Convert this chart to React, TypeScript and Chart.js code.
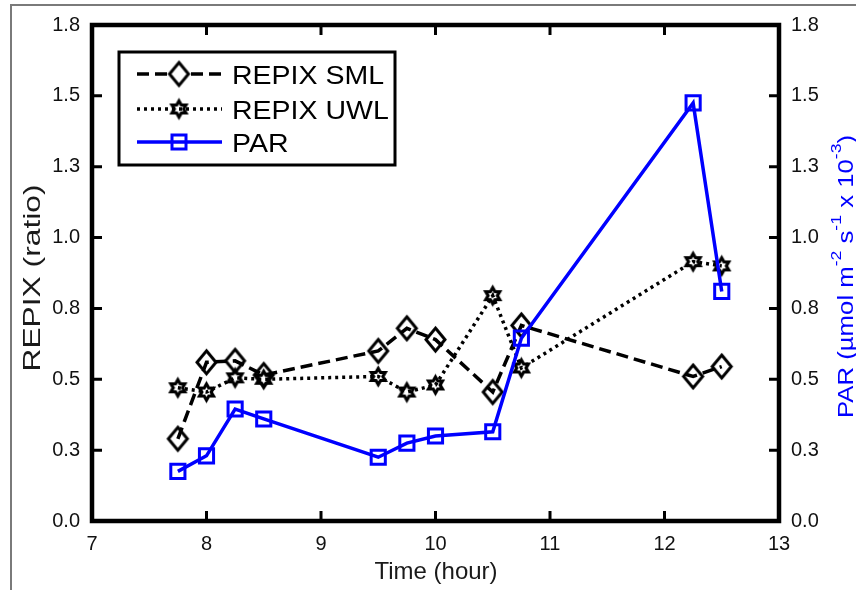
import React, { useEffect, useRef } from 'react';
import { Chart, registerables } from 'chart.js';

Chart.register(...registerables);

const FONT = "'Liberation Sans', Arial, Helvetica, sans-serif";

// ---- data ----
const times = [7.75, 8, 8.25, 8.5, 9.5, 9.75, 10, 10.5, 10.75, 12.25, 12.5];
const repixSml = [0.29, 0.56, 0.565, 0.515, 0.6, 0.68, 0.64, 0.455, 0.69, 0.51, 0.545];
const repixUwl = [0.47, 0.455, 0.505, 0.5, 0.51, 0.455, 0.48, 0.795, 0.54, 0.915, 0.9];
const parValues = [0.175, 0.23, 0.395, 0.36, 0.225, 0.275, 0.3, 0.315, 0.645, 1.475, 0.81];

const seriesLabels = ['REPIX SML', 'REPIX UWL', 'PAR'];
const xTicks = [7, 8, 9, 10, 11, 12, 13];
const yTicks = [0, 0.25, 0.5, 0.75, 1, 1.25, 1.5, 1.75];
const yTickLabels = ['0.0', '0.3', '0.5', '0.8', '1.0', '1.3', '1.5', '1.8'];
const xTitle = 'Time (hour)';
const yTitle = 'REPIX (ratio)';
const y2TitleRuns = [
  { text: 'PAR (µmol m', sup: false },
  { text: '-2', sup: true },
  { text: ' s', sup: false },
  { text: '-1', sup: true },
  { text: ' x 10', sup: false },
  { text: '-3', sup: true },
  { text: ')', sup: false },
];

function makeDiamond(hw: number, hh: number, lw: number, color: string) {
  const w = Math.ceil(2 * hw + 2 * lw + 6);
  const h = Math.ceil(2 * hh + 2 * lw + 6);
  const c = document.createElement('canvas');
  c.width = w;
  c.height = h;
  const g = c.getContext('2d')!;
  const cx = w / 2, cy = h / 2;
  g.beginPath();
  g.moveTo(cx, cy - hh);
  g.lineTo(cx + hw, cy);
  g.lineTo(cx, cy + hh);
  g.lineTo(cx - hw, cy);
  g.closePath();
  g.lineWidth = lw;
  g.strokeStyle = color;
  g.lineJoin = 'miter';
  g.stroke();
  return c;
}

function makeHexagram(R: number, lw: number, color: string) {
  const s = Math.ceil(2 * R + 2 * lw + 6);
  const c = document.createElement('canvas');
  c.width = s;
  c.height = s;
  const g = c.getContext('2d')!;
  const cx = s / 2, cy = s / 2;
  const r = R / Math.sqrt(3);
  g.beginPath();
  for (let i = 0; i < 12; i++) {
    const a = -Math.PI / 2 + (i * Math.PI) / 6;
    const rr = i % 2 === 0 ? R : r;
    const px = cx + rr * Math.cos(a);
    const py = cy + rr * Math.sin(a);
    if (i === 0) g.moveTo(px, py);
    else g.lineTo(px, py);
  }
  g.closePath();
  g.lineWidth = lw;
  g.strokeStyle = color;
  g.lineJoin = 'miter';
  g.miterLimit = 3;
  g.stroke();
  return c;
}

export default function App() {
  const ref = useRef<HTMLCanvasElement | null>(null);

  useEffect(() => {
    const canvas = ref.current;
    if (!canvas) return;

    const diamond = makeDiamond(9.5, 11.5, 3, '#000');
    const hexagram = makeHexagram(8, 3.2, '#000');

    const toPts = (ys: number[]) => times.map((t, i) => ({ x: t, y: ys[i] }));

    const smlDash = [12, 6];
    const uwlDash = [3, 4];

    const decor = {
      id: 'decor',
      afterDraw(chart: any) {
        const ctx: CanvasRenderingContext2D = chart.ctx;
        const { left, right, top, bottom } = chart.chartArea;
        const xs = chart.scales.x;
        const ys = chart.scales.y;
        ctx.save();

        // figure frame
        ctx.strokeStyle = '#7a7a7a';
        ctx.lineWidth = 2;
        ctx.beginPath();
        ctx.moveTo(11, 590);
        ctx.lineTo(11, 5);
        ctx.lineTo(856, 5);
        ctx.stroke();

        // inward tick marks
        ctx.strokeStyle = '#000';
        ctx.lineWidth = 3;
        ctx.beginPath();
        xTicks.forEach((v) => {
          const px = xs.getPixelForValue(v);
          ctx.moveTo(px, bottom);
          ctx.lineTo(px, bottom - 10);
          ctx.moveTo(px, top);
          ctx.lineTo(px, top + 10);
        });
        yTicks.forEach((v) => {
          const py = ys.getPixelForValue(v);
          ctx.moveTo(left, py);
          ctx.lineTo(left + 10, py);
          ctx.moveTo(right, py);
          ctx.lineTo(right - 10, py);
        });
        ctx.stroke();

        // axes box
        ctx.lineWidth = 4.5;
        ctx.strokeRect(left, top, right - left, bottom - top);

        // legend
        const lx0 = 119, ly0 = 52, lx1 = 395, ly1 = 165;
        ctx.fillStyle = '#fff';
        ctx.fillRect(lx0, ly0, lx1 - lx0, ly1 - ly0);
        ctx.lineWidth = 3;
        ctx.strokeStyle = '#000';
        ctx.strokeRect(lx0, ly0, lx1 - lx0, ly1 - ly0);
        const rows = [74, 109, 142];
        const colors = ['#000', '#000', '#0000ff'];
        const dashes = [smlDash, uwlDash, []];
        rows.forEach((ry, i) => {
          ctx.setLineDash(dashes[i]);
          ctx.lineWidth = 3.5;
          ctx.strokeStyle = colors[i];
          ctx.beginPath();
          ctx.moveTo(137, ry);
          ctx.lineTo(222, ry);
          ctx.stroke();
          ctx.setLineDash([]);
          if (i === 0) {
            ctx.fillStyle = '#fff';
            ctx.fillRect(171, ry - 11, 16, 22);
            ctx.drawImage(diamond, 179 - diamond.width / 2, ry - diamond.height / 2);
          } else if (i === 1) {
            ctx.drawImage(hexagram, 179 - hexagram.width / 2, ry - hexagram.height / 2);
          } else {
            ctx.lineWidth = 3;
            ctx.strokeStyle = '#0000ff';
            ctx.strokeRect(179 - 7, ry - 7, 14, 14);
          }
          ctx.save();
          ctx.fillStyle = '#000';
          ctx.font = `25px ${FONT}`;
          ctx.textAlign = 'left';
          ctx.textBaseline = 'alphabetic';
          ctx.translate(232, ry + 9.5);
          ctx.scale(1.14, 1);
          ctx.fillText(seriesLabels[i], 0, 0);
          ctx.restore();
        });

        // x title
        ctx.fillStyle = '#1a1a1a';
        ctx.font = `24px ${FONT}`;
        ctx.textAlign = 'center';
        ctx.textBaseline = 'alphabetic';
        ctx.fillText(xTitle, 436, 579);

        // left y title (stretched along its length)
        ctx.save();
        ctx.translate(40, 278);
        ctx.rotate(-Math.PI / 2);
        ctx.font = `24px ${FONT}`;
        const wl = ctx.measureText(yTitle).width;
        ctx.scale(187 / wl, 1);
        ctx.textAlign = 'center';
        ctx.fillText(yTitle, 0, 0);
        ctx.restore();

        // right y title with superscripts
        ctx.save();
        ctx.translate(853, 276.5);
        ctx.rotate(-Math.PI / 2);
        ctx.fillStyle = '#0000ff';
        ctx.textAlign = 'left';
        const mainF = `22px ${FONT}`;
        const supF = `15px ${FONT}`;
        let total = 0;
        const widths = y2TitleRuns.map((r) => {
          ctx.font = r.sup ? supF : mainF;
          const w = ctx.measureText(r.text).width;
          total += w;
          return w;
        });
        const k = 283 / total;
        ctx.scale(k, 1);
        let cx = -total / 2;
        y2TitleRuns.forEach((r, i) => {
          ctx.font = r.sup ? supF : mainF;
          ctx.fillText(r.text, cx, r.sup ? -12 : 0);
          cx += widths[i];
        });
        ctx.restore();

        ctx.restore();
      },
    };

    const tickFont = { size: 20, family: FONT };
    const tickColor = '#111';

    const chart = new Chart(canvas, {
      type: 'line',
      data: {
        datasets: [
          {
            label: seriesLabels[0],
            data: toPts(repixSml),
            borderColor: '#000',
            borderWidth: 3.5,
            borderDash: smlDash,
            pointStyle: diamond as any,
            pointRadius: 10,
            pointBorderColor: '#000',
            pointBackgroundColor: 'rgba(0,0,0,0)',
            tension: 0,
            yAxisID: 'y',
            order: 2,
          },
          {
            label: seriesLabels[1],
            data: toPts(repixUwl),
            borderColor: '#000',
            borderWidth: 3.5,
            borderDash: uwlDash,
            pointStyle: hexagram as any,
            pointRadius: 8,
            pointBorderColor: '#000',
            pointBackgroundColor: 'rgba(0,0,0,0)',
            tension: 0,
            yAxisID: 'y',
            order: 1,
          },
          {
            label: seriesLabels[2],
            data: toPts(parValues),
            borderColor: '#0000ff',
            borderWidth: 3.5,
            pointStyle: 'rect',
            pointRadius: 10,
            pointBorderWidth: 3,
            pointBorderColor: '#0000ff',
            pointBackgroundColor: 'rgba(0,0,0,0)',
            tension: 0,
            yAxisID: 'y2',
            order: 0,
          },
        ],
      },
      options: {
        animation: false,
        responsive: false,
        maintainAspectRatio: false,
        layout: { padding: { top: 25, left: 0, right: 0, bottom: 0 } },
        plugins: {
          legend: { display: false },
          tooltip: { enabled: false },
        },
        scales: {
          x: {
            type: 'linear',
            min: 7,
            max: 13,
            afterBuildTicks: (s: any) => {
              s.ticks = xTicks.map((v) => ({ value: v }));
            },
            afterFit: (s: any) => {
              s.height = 69;
            },
            grid: { display: false, drawTicks: false },
            border: { display: false },
            ticks: {
              font: tickFont,
              color: tickColor,
              padding: 11,
              maxRotation: 0,
              autoSkip: false,
              callback: (v: any) => String(v),
            },
          },
          y: {
            type: 'linear',
            position: 'left',
            min: 0,
            max: 1.75,
            afterBuildTicks: (s: any) => {
              s.ticks = yTicks.map((v) => ({ value: v }));
            },
            afterFit: (s: any) => {
              s.width = 92;
            },
            grid: { display: false, drawTicks: false },
            border: { display: false },
            ticks: {
              font: tickFont,
              color: tickColor,
              padding: 12,
              autoSkip: false,
              callback: (v: any) => yTickLabels[yTicks.indexOf(Number(v))] ?? '',
            },
          },
          y2: {
            type: 'linear',
            position: 'right',
            min: 0,
            max: 1.75,
            afterBuildTicks: (s: any) => {
              s.ticks = yTicks.map((v) => ({ value: v }));
            },
            afterFit: (s: any) => {
              s.width = 77;
            },
            grid: { display: false, drawTicks: false },
            border: { display: false },
            ticks: {
              font: tickFont,
              color: tickColor,
              padding: 12,
              autoSkip: false,
              callback: (v: any) => yTickLabels[yTicks.indexOf(Number(v))] ?? '',
            },
          },
        },
      },
      plugins: [decor],
    });

    return () => {
      chart.destroy();
    };
  }, []);

  return (
    <div style={{ position: 'absolute', left: 0, top: 0, width: 856, height: 590, background: '#fff' }}>
      <canvas ref={ref} width={856} height={590} style={{ display: 'block', width: 856, height: 590 }} />
    </div>
  );
}
